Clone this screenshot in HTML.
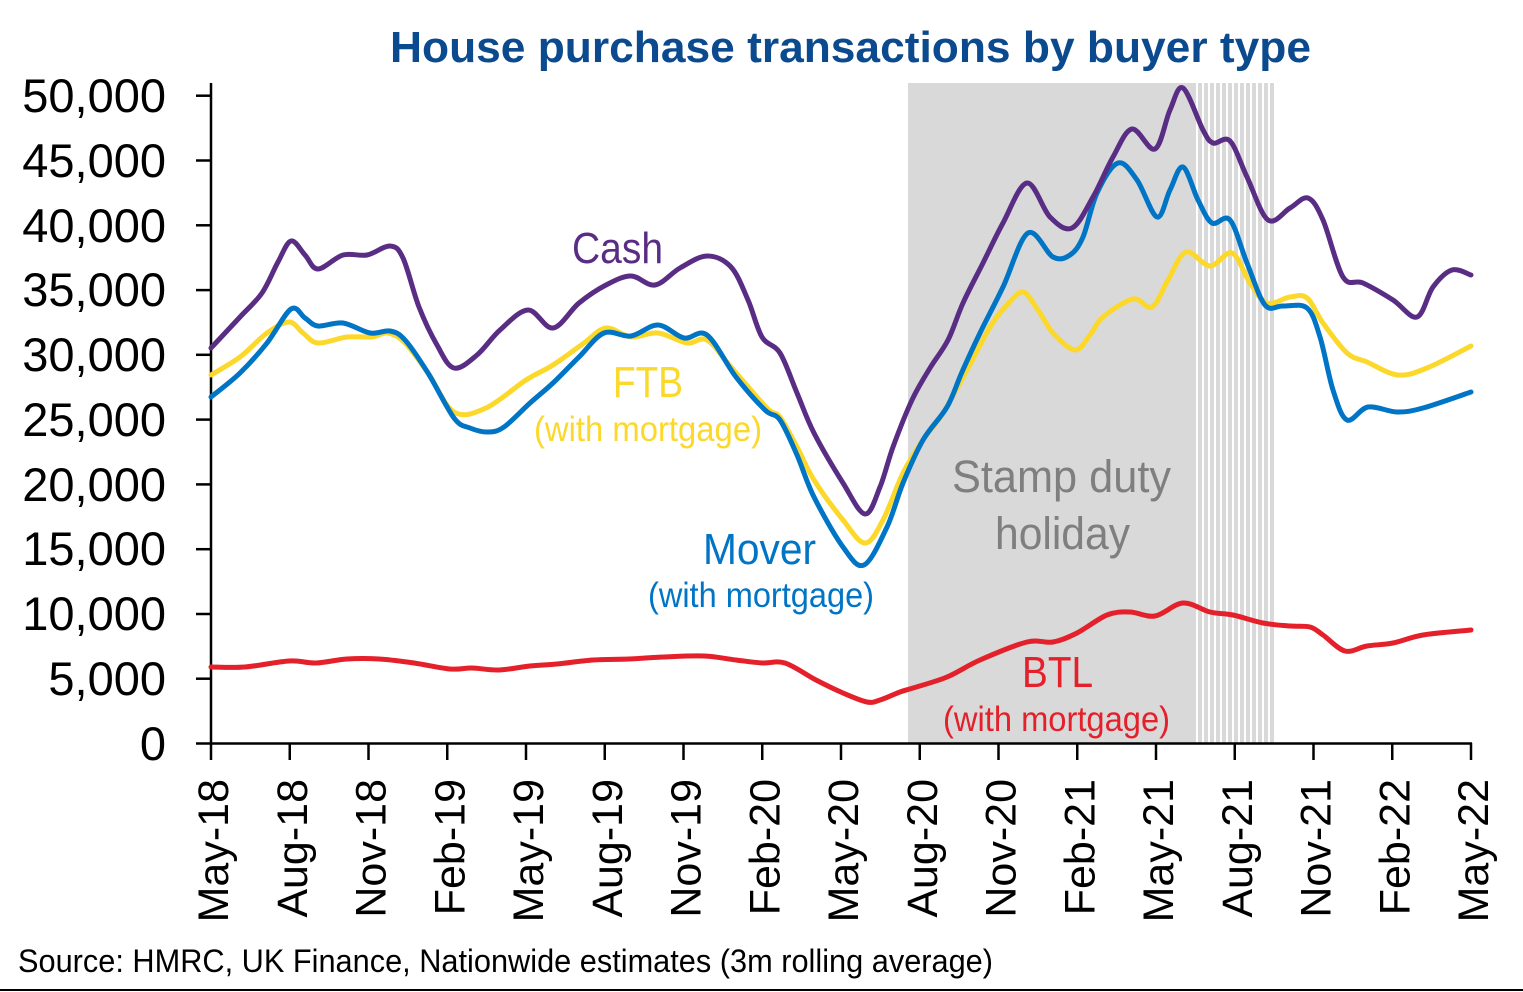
<!DOCTYPE html>
<html>
<head>
<meta charset="utf-8">
<style>
html,body{margin:0;padding:0;background:#fff;}
body{width:1523px;height:992px;overflow:hidden;}
svg{display:block;}
text{font-family:"Liberation Sans",Arial,sans-serif;}
</style>
</head>
<body>
<svg id="chart" width="1523" height="992" viewBox="0 0 1523 992" xmlns="http://www.w3.org/2000/svg">
  <rect x="0" y="0" width="1523" height="992" fill="#ffffff"/>
  <!-- shaded stamp duty holiday -->
  <rect x="908" y="83" width="288" height="661" fill="#d9d9d9"/>
  <g id="stripes" fill="#d9d9d9"></g>

  <!-- title -->
  <text x="390" y="62" font-size="44" font-weight="bold" fill="#0b4a8e" textLength="921" lengthAdjust="spacingAndGlyphs">House purchase transactions by buyer type</text>

  <!-- y axis -->
  <line x1="211" y1="83" x2="211" y2="745" stroke="#000" stroke-width="2.5"/>

  <!-- x axis -->
  <line x1="210" y1="743.5" x2="1472" y2="743.5" stroke="#000" stroke-width="2.5"/>

  <!-- series -->
  <g fill="none" stroke-width="5" stroke-linejoin="round" stroke-linecap="round">
    <polyline class="s" stroke="#e4202a" points="211,667 245,667 289,661 316,663 347,659 379,659 414,663 450,669 472,668 499,670 530,666 557,664 593,660 629,659 664,657 704,656 736,660 762,663 785,663 816,680 843,693 867,702 880,700 900,692 913,688 947,677 980,660 1027,642 1053,642 1077,633 1107,615 1130,612 1155,616 1183,603 1210,612 1233,615 1263,623 1290,626 1310,627 1323,635 1345,651 1367,646 1393,643 1423,635 1471,630"/>
    <polyline class="s" stroke="#fcd82a" points="211,375 240,357 267,333 289,322 303,333 318,343 347,337 372,337 388,333 405,343 428,373 454,412 486,408 526,380 553,365 584,343 606,328 631,337 658,333 687,343 707,340 731,367 767,408 780,417 797,447 814,480 843,520 865,543 883,520 903,473 923,440 943,413 968,368 990,327 1007,305 1023,292 1038,310 1053,333 1075,350 1090,335 1103,317 1133,299 1152,307 1168,280 1186,252 1210,266 1232,253 1250,283 1267,303 1290,297 1307,298 1323,323 1347,353 1367,362 1398,375 1427,368 1471,346"/>
    <polyline class="s" stroke="#0074c5" points="211,397 240,373 267,343 291,309 305,318 318,326 343,323 370,333 390,331 405,340 428,373 454,418 470,428 488,432 504,427 530,403 553,383 579,357 604,333 631,336 658,325 684,338 707,335 736,377 765,410 780,420 797,455 814,497 843,547 864,565 887,527 903,483 923,440 947,407 962,372 980,333 1003,287 1028,233 1053,257 1070,255 1083,237 1097,193 1118,163 1137,180 1157,217 1170,190 1183,167 1198,200 1212,223 1230,220 1247,263 1265,305 1283,306 1307,308 1320,337 1333,390 1347,420 1368,407 1397,412 1423,408 1471,392"/>
    <polyline class="s" stroke="#5a2d84" points="211,348 240,317 262,293 278,262 291,241 305,255 318,269 343,255 367,255 390,246 403,258 419,307 437,345 454,368 477,355 500,330 528,310 553,328 579,303 606,285 631,276 655,285 680,268 707,256 731,267 748,300 762,337 780,353 797,393 814,433 843,483 865,514 880,487 893,447 912,400 930,368 948,340 963,303 983,263 1003,223 1027,183 1050,217 1072,228 1093,197 1113,157 1132,129 1155,149 1170,110 1183,88 1203,130 1213,143 1230,141 1247,177 1268,220 1290,208 1308,198 1323,220 1343,277 1363,283 1393,300 1417,317 1433,287 1452,270 1471,275"/>
  </g>

  <!-- labels -->
  <text x="572" y="263" font-size="44" fill="#5a2d84" textLength="91" lengthAdjust="spacingAndGlyphs">Cash</text>
  <text x="613" y="397" font-size="44" fill="#fcd82a" textLength="70" lengthAdjust="spacingAndGlyphs">FTB</text>
  <text x="534" y="441" font-size="35" fill="#fcd82a" textLength="228" lengthAdjust="spacingAndGlyphs">(with mortgage)</text>
  <text x="703" y="564" font-size="44" fill="#0074c5" textLength="113" lengthAdjust="spacingAndGlyphs">Mover</text>
  <text x="648" y="607" font-size="35" fill="#0074c5" textLength="226" lengthAdjust="spacingAndGlyphs">(with mortgage)</text>
  <text x="952" y="492" font-size="45" fill="#7f7f7f" textLength="219" lengthAdjust="spacingAndGlyphs">Stamp duty</text>
  <text x="995" y="549" font-size="45" fill="#7f7f7f" textLength="135" lengthAdjust="spacingAndGlyphs">holiday</text>
  <text x="1022" y="687" font-size="44" fill="#e4202a" textLength="71" lengthAdjust="spacingAndGlyphs">BTL</text>
  <text x="943" y="731" font-size="35" fill="#e4202a" textLength="227" lengthAdjust="spacingAndGlyphs">(with mortgage)</text>

  <!-- source -->
  <text x="18" y="972" font-size="32" fill="#000" textLength="975" lengthAdjust="spacingAndGlyphs">Source: HMRC, UK Finance, Nationwide estimates (3m rolling average)</text>
  <rect x="0" y="989" width="1523" height="2" fill="#000"/>

  <!-- axes labels and ticks -->
  <g>
    <g font-size="47" text-anchor="end" fill="#000">
      <text x="166" y="112">50,000</text>
      <text x="166" y="177">45,000</text>
      <text x="166" y="242">40,000</text>
      <text x="166" y="306">35,000</text>
      <text x="166" y="371">30,000</text>
      <text x="166" y="436">25,000</text>
      <text x="166" y="501">20,000</text>
      <text x="166" y="565">15,000</text>
      <text x="166" y="630">10,000</text>
      <text x="166" y="695">5,000</text>
      <text x="166" y="760">0</text>
    </g>
    <g font-size="43" text-anchor="end" fill="#000">
      <text transform="translate(228,779) rotate(-90)">May-18</text>
      <text transform="translate(306.75,779) rotate(-90)">Aug-18</text>
      <text transform="translate(385.5,779) rotate(-90)">Nov-18</text>
      <text transform="translate(464.25,779) rotate(-90)">Feb-19</text>
      <text transform="translate(543,779) rotate(-90)">May-19</text>
      <text transform="translate(621.75,779) rotate(-90)">Aug-19</text>
      <text transform="translate(700.5,779) rotate(-90)">Nov-19</text>
      <text transform="translate(779.25,779) rotate(-90)">Feb-20</text>
      <text transform="translate(858,779) rotate(-90)">May-20</text>
      <text transform="translate(936.75,779) rotate(-90)">Aug-20</text>
      <text transform="translate(1015.5,779) rotate(-90)">Nov-20</text>
      <text transform="translate(1094.25,779) rotate(-90)">Feb-21</text>
      <text transform="translate(1173,779) rotate(-90)">May-21</text>
      <text transform="translate(1251.75,779) rotate(-90)">Aug-21</text>
      <text transform="translate(1330.5,779) rotate(-90)">Nov-21</text>
      <text transform="translate(1409.25,779) rotate(-90)">Feb-22</text>
      <text transform="translate(1488,779) rotate(-90)">May-22</text>
    </g>
    <g stroke="#000" stroke-width="2.5">
      <line x1="196" y1="95.7" x2="211" y2="95.7"/><line x1="196" y1="160.5" x2="211" y2="160.5"/>
      <line x1="196" y1="225.3" x2="211" y2="225.3"/><line x1="196" y1="290.1" x2="211" y2="290.1"/>
      <line x1="196" y1="354.8" x2="211" y2="354.8"/><line x1="196" y1="419.6" x2="211" y2="419.6"/>
      <line x1="196" y1="484.4" x2="211" y2="484.4"/><line x1="196" y1="549.2" x2="211" y2="549.2"/>
      <line x1="196" y1="614" x2="211" y2="614"/><line x1="196" y1="678.7" x2="211" y2="678.7"/>
      <line x1="196" y1="743.5" x2="211" y2="743.5"/>
      <line x1="211" y1="743" x2="211" y2="760"/><line x1="289.75" y1="743" x2="289.75" y2="760"/>
      <line x1="368.5" y1="743" x2="368.5" y2="760"/><line x1="447.25" y1="743" x2="447.25" y2="760"/>
      <line x1="526" y1="743" x2="526" y2="760"/><line x1="604.75" y1="743" x2="604.75" y2="760"/>
      <line x1="683.5" y1="743" x2="683.5" y2="760"/><line x1="762.25" y1="743" x2="762.25" y2="760"/>
      <line x1="841" y1="743" x2="841" y2="760"/><line x1="919.75" y1="743" x2="919.75" y2="760"/>
      <line x1="998.5" y1="743" x2="998.5" y2="760"/><line x1="1077.25" y1="743" x2="1077.25" y2="760"/>
      <line x1="1156" y1="743" x2="1156" y2="760"/><line x1="1234.75" y1="743" x2="1234.75" y2="760"/>
      <line x1="1313.5" y1="743" x2="1313.5" y2="760"/><line x1="1392.25" y1="743" x2="1392.25" y2="760"/>
      <line x1="1471" y1="743" x2="1471" y2="760"/>
    </g>
  </g>
</svg>
<script>
(function(){
  var NS="http://www.w3.org/2000/svg";
  var sg=document.getElementById("stripes");
  for(var x=1198;x<1275;x+=6){
    var r=document.createElementNS(NS,"rect");
    r.setAttribute("x",x);r.setAttribute("y",83);
    r.setAttribute("width",4);r.setAttribute("height",661);
    sg.appendChild(r);
  }
  var pls=document.querySelectorAll("polyline.s");
  for(var i=0;i<pls.length;i++){
    var pl=pls[i];
    var raw=pl.getAttribute("points").trim().split(/\s+/);
    var p=raw.map(function(s){var a=s.split(",");return [parseFloat(a[0]),parseFloat(a[1])];});
    var d="M"+p[0][0]+","+p[0][1];
    for(var k=0;k<p.length-1;k++){
      var p0=p[k>0?k-1:k],p1=p[k],p2=p[k+1],p3=p[k+2<p.length?k+2:k+1];
      var c1x=p1[0]+(p2[0]-p0[0])/6, c1y=p1[1]+(p2[1]-p0[1])/6;
      var c2x=p2[0]-(p3[0]-p1[0])/6, c2y=p2[1]-(p3[1]-p1[1])/6;
      d+=" C"+c1x.toFixed(2)+","+c1y.toFixed(2)+" "+c2x.toFixed(2)+","+c2y.toFixed(2)+" "+p2[0]+","+p2[1];
    }
    var path=document.createElementNS(NS,"path");
    path.setAttribute("d",d);
    path.setAttribute("stroke",pl.getAttribute("stroke"));
    pl.parentNode.insertBefore(path,pl);
    pl.parentNode.removeChild(pl);
  }
})();
</script>
</body>
</html>
